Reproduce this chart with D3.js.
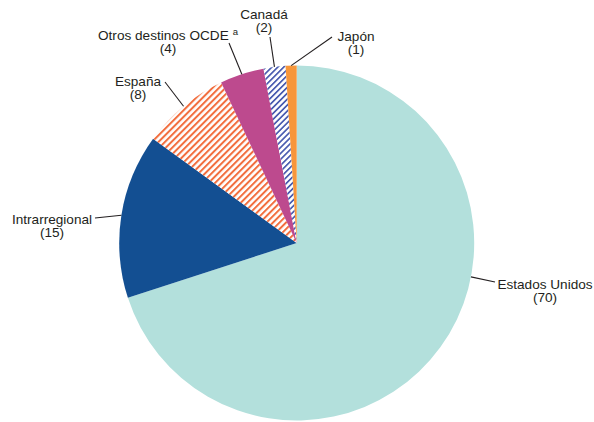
<!DOCTYPE html>
<html><head><meta charset="utf-8">
<script src="https://cdn.jsdelivr.net/npm/d3@7"></script>
<style>body{margin:0;background:#fff}svg{display:block}text{font-family:"Liberation Sans",Arial,sans-serif;font-size:13.6px;fill:#231f20}</style>
</head><body><svg id="c" width="594" height="422"></svg>
<script>
const categories = ["Estados Unidos","Intrarregional","España","Otros destinos OCDE","Canadá","Japón"];
const values = [70,15,8,4,2,1];
const valueLabels = ["(70)","(15)","(8)","(4)","(2)","(1)"];
const fills = ["#b3e0dc","#134f92","url(#hatchOrange)","#bd4a8e","url(#hatchBlue)","#f7963a"];
// label layout: leader start angle (deg, null = mid angle), leader end, text centre
const layout = [
  {ang:101, end:[495,282], tx:545, ty:284},
  {ang:null, end:[95,218], tx:52, ty:219},
  {ang:null, end:[165,82], tx:138, ty:81},
  {ang:null, end:[229,43], tx:168, ty:35},
  {ang:null, end:[270,37], tx:264, ty:14},
  {ang:null, end:[332,37], tx:356, ty:36}
];
const svg = d3.select("#c");
const defs = svg.append("defs");
function hatch(id,color,sw,gap){
  const p = defs.append("pattern").attr("id",id).attr("patternUnits","userSpaceOnUse")
    .attr("width",gap).attr("height",gap).attr("patternTransform","rotate(45)");
  p.append("rect").attr("width",gap).attr("height",gap).attr("fill","#fff");
  p.append("rect").attr("x",0).attr("y",0).attr("width",sw).attr("height",gap).attr("fill",color);
}
hatch("hatchOrange","#f26d3d",2,4.6);
hatch("hatchBlue","#4b5db0",1.7,4.2);
const cx=296.7, cy=243, R=177.5;
const g = svg.append("g").attr("transform",`translate(${cx},${cy})`);
const pie = d3.pie().sort(null).value(d=>d).startAngle(0).endAngle(2*Math.PI);
const arcs = pie(values);
const arc = d3.arc().innerRadius(0).outerRadius(R);
g.selectAll("path.s").data(arcs).join("path").attr("class","s")
  .attr("d",arc).attr("fill",(d,i)=>fills[i]);
// leader lines
arcs.forEach((a,i)=>{
  const L = layout[i];
  const ang = L.ang==null ? (a.startAngle+a.endAngle)/2 : L.ang*Math.PI/180;
  const x0 = cx + R*Math.sin(ang), y0 = cy - R*Math.cos(ang);
  svg.append("line").attr("x1",x0).attr("y1",y0).attr("x2",L.end[0]).attr("y2",L.end[1])
    .attr("stroke","#231f20").attr("stroke-width",1.1);
  const t = svg.append("text").attr("x",L.tx).attr("y",L.ty+4.7).attr("text-anchor","middle");
  t.append("tspan").text(categories[i]);
  if(i===3){ t.append("tspan").attr("dx",4).attr("dy",-5).style("font-size","9.5px").text("a"); }
  svg.append("text").attr("x",L.tx).attr("y",L.ty+13.5+4.7).attr("text-anchor","middle").text(valueLabels[i]);
});
</script></body></html>
